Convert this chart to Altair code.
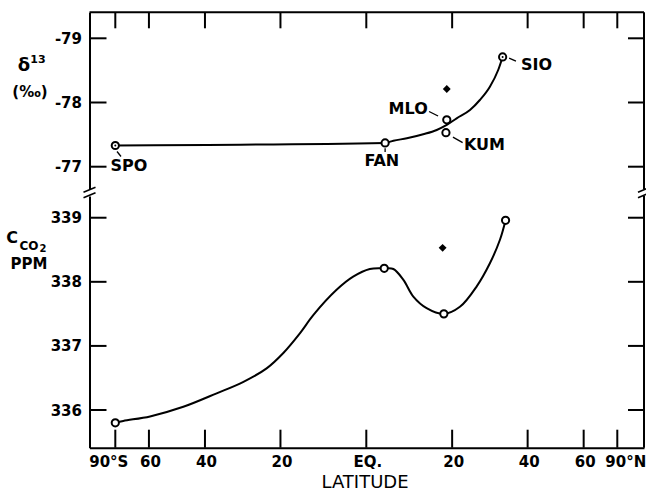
import altair as alt
import numpy as np
import pandas as pd

# ---------------- values ----------------
# upper panel: delta-13 (per mil), stations
TOP_STATIONS = ["SPO", "FAN", "MLO", "KUM", "SIO"]
TOP_LAT = [-90.0, 4.3, 18.7, 18.5, 32.9]
TOP_D13 = [-77.33, -77.37, -77.73, -77.53, -78.71]
TOP_DOTTED = ["SPO", "SIO"]
TOP_EXTRA_LAT = [18.7]
TOP_EXTRA_D13 = [-78.21]

# hand-drawn curve of the upper panel
TOP_CURVE_LAT = [-90.0, 4.3, 6.2, 9.3, 13.1, 16.3, 18.7, 21.1, 24.4, 26.9, 29.5, 31.7, 32.9]
TOP_CURVE_D13 = [-77.33, -77.37, -77.405, -77.442, -77.505, -77.572, -77.650,
                 -77.754, -77.883, -78.039, -78.246, -78.506, -78.71]

# lower panel: CO2 concentration (ppm)
BOT_LAT = [-90.0, 4.1, 18.0, 33.7]
BOT_CO2 = [335.80, 338.21, 337.50, 338.96]
BOT_EXTRA_LAT = [17.7]
BOT_EXTRA_CO2 = [338.53]

# hand-drawn curve of the lower panel
BOT_CURVE_LAT = [-90.0, -75.5, -59.5, -46.8, -36.6, -29.3, -23.4, -19.3, -15.3, -12.2,
                 -6.8, -3.0, 0.8, 4.1, 6.2, 8.5, 10.8, 13.9, 18.0, 21.9, 26.1,
                 29.5, 32.2, 33.7]
BOT_CURVE_CO2 = [335.80, 335.83, 335.90, 336.05, 336.26, 336.44, 336.65, 336.89, 337.20,
                 337.48, 337.875, 338.08, 338.20, 338.21, 338.20, 338.03, 337.77,
                 337.59, 337.50, 337.61, 337.93, 338.29, 338.66, 338.96]

# axes
LAT_TICKS = [-90, -60, -40, -20, 0, 20, 40, 60, 90]
LAT_TICK_LABELS = ["90°S", "60", "40", "20", "EQ.", "20", "40", "60", "90°N"]
D13_TICKS = [-79, -78, -77]
D13_TICK_LABELS = ["-79", "-78", "-77"]
CO2_TICKS = [336, 337, 338, 339]
CO2_TICK_LABELS = ["336", "337", "338", "339"]

# ---------------- layout / style ----------------
W, H = 554.5, 435.4
PAD = {"left": 89.5, "top": 12.3, "right": 2.0, "bottom": 44.3}
XDOM = [-1.1028, 1.1064]
TOP_DOM, TOP_RANGE = [-79.405, -76.648], [0, 177]
BOT_DOM, BOT_RANGE = [335.412, 339.339], [H, 183.7]
FONT = "DejaVu Sans"
SIN = "sin(datum.lat*PI/180)"

xs = alt.Scale(domain=XDOM, nice=False, zero=False)
ys_top = alt.Scale(domain=TOP_DOM, range=TOP_RANGE, nice=False, zero=False)
ys_bot = alt.Scale(domain=BOT_DOM, range=BOT_RANGE, nice=False, zero=False)


def label_expr(vals, labs):
    return "".join(f"abs(datum.value - ({v})) < 1e-6 ? '{l}' : " for v, l in zip(vals, labs)) + "''"


XT_SIN = [float(np.sin(np.radians(v))) for v in LAT_TICKS]
XAXIS = alt.Axis(values=XT_SIN, labelExpr=label_expr(XT_SIN, LAT_TICK_LABELS), orient="bottom",
                 ticks=False, grid=False, domain=True, domainWidth=2, domainColor="black",
                 labelPadding=7, labelFont=FONT, labelFontSize=15, labelFontWeight="bold",
                 labelColor="black", labelBaseline="top", title=None,
                 labelOffset={"condition": [{"test": "datum.value < -0.99", "value": -7},
                                            {"test": "datum.value > 0.99", "value": 8}],
                              "value": 1})


def yaxis(ticks, labels):
    return alt.Axis(values=ticks, labelExpr=label_expr(ticks, labels), orient="left",
                    ticks=False, grid=False, domain=True, domainWidth=2, domainColor="black",
                    labelPadding=8, labelFont=FONT, labelFontSize=15, labelFontWeight="bold",
                    labelColor="black", labelBaseline="middle", title=None)


TOP_AXIS = yaxis(D13_TICKS, D13_TICK_LABELS)
BOT_AXIS = yaxis(CO2_TICKS, CO2_TICK_LABELS)


def Xs():
    return alt.X("s:Q", scale=xs, axis=XAXIS)


def pts(lat, val, **extra):
    return alt.Chart(pd.DataFrame({"lat": lat, "v": val, **extra})).transform_calculate(s=SIN)


one = alt.Chart(pd.DataFrame({"k": [0]}))


def panel(ticks, yscale, yax, curve_lat, curve_val, interp, p_lat, p_val, ex_lat, ex_val):
    Y = alt.Y("v:Q", scale=yscale, axis=yax)
    tdf = alt.Chart(pd.DataFrame({"v": ticks}))
    left = tdf.mark_rule(color="black", strokeWidth=2).encode(
        y=Y, x=alt.value(0), x2=alt.value(17))
    right = tdf.mark_rule(color="black", strokeWidth=2).encode(
        y=Y, x=alt.value(W - 16), x2=alt.value(W))
    curve = pts(curve_lat, curve_val).mark_line(
        color="black", strokeWidth=2, interpolate=interp).encode(
        x=Xs(), y=Y, order="lat:Q")
    circles = pts(p_lat, p_val).mark_point(
        shape="circle", size=52, filled=True, fill="white", stroke="black",
        strokeWidth=2, opacity=1).encode(x=Xs(), y=Y)
    diamond = pts(ex_lat, ex_val).mark_point(
        shape="diamond", size=62, filled=True, color="black", opacity=1).encode(
        x=Xs(), y=Y)
    return [left, right, curve, circles, diamond]


# ---------- upper panel ----------
top_layers = panel(D13_TICKS, ys_top, TOP_AXIS, TOP_CURVE_LAT, TOP_CURVE_D13, "monotone",
                   TOP_LAT, TOP_D13, TOP_EXTRA_LAT, TOP_EXTRA_D13)
YT = alt.Y("v:Q", scale=ys_top, axis=TOP_AXIS)

top_df = pts(TOP_LAT, TOP_D13, st=TOP_STATIONS)
dots = top_df.transform_filter(
    alt.FieldOneOfPredicate(field="st", oneOf=TOP_DOTTED)).mark_point(
    shape="circle", size=4, filled=True, color="black", opacity=1).encode(x=Xs(), y=YT)
top_layers.append(dots)

LABEL_STYLE = {
    "SPO": dict(align="center", dx=13.5, dy=20.5, lead=(1.7, 6.0, 5.7, 11.0)),
    "FAN": dict(align="center", dx=-3.3, dy=18.0, lead=(0.0, 5.2, 0.0, 9.0)),
    "MLO": dict(align="right", dx=-19.0, dy=-10.7, lead=(-17.7, -8.3, -8.7, -3.8)),
    "KUM": dict(align="left", dx=18.0, dy=12.3, lead=(7.0, 4.5, 16.7, 10.0)),
    "SIO": dict(align="left", dx=18.3, dy=8.0, lead=(6.5, 1.3, 13.3, 4.3)),
}
for st, sty in LABEL_STYLE.items():
    sub = top_df.transform_filter(alt.datum.st == st)
    top_layers.append(sub.mark_text(
        align=sty["align"], baseline="middle", dx=sty["dx"], dy=sty["dy"], font=FONT,
        fontSize=16, fontWeight="bold", color="black").encode(
        x=Xs(), y=YT, text="st:N"))
    a, b, c, d = sty["lead"]
    top_layers.append(sub.mark_rule(
        color="black", strokeWidth=1.3, xOffset=a, yOffset=b, x2Offset=c, y2Offset=d).encode(
        x=Xs(), y=YT, x2="s:Q", y2="v:Q"))

# ---------- lower panel ----------
bot_layers = panel(CO2_TICKS, ys_bot, BOT_AXIS, BOT_CURVE_LAT, BOT_CURVE_CO2, "catmull-rom",
                   BOT_LAT, BOT_CO2, BOT_EXTRA_LAT, BOT_EXTRA_CO2)

xt = alt.Chart(pd.DataFrame({"lat": LAT_TICKS})).transform_calculate(s=SIN)
bot_layers.append(xt.mark_rule(color="black", strokeWidth=2).encode(
    x=Xs(), y=alt.value(H - 18), y2=alt.value(H)))
bot_layers.append(xt.mark_rule(color="black", strokeWidth=2).encode(
    x=Xs(), y=alt.value(0), y2=alt.value(16)))

# frame lines and axis breaks
bot_layers.append(one.mark_rule(color="black", strokeWidth=2).encode(
    x=alt.value(0), x2=alt.value(W), y=alt.value(0)))
for y1, y2 in [(0, 177), (183.7, H)]:
    bot_layers.append(one.mark_rule(color="black", strokeWidth=2).encode(
        x=alt.value(W), y=alt.value(y1), y2=alt.value(y2)))
for xc in [0, W]:
    for yb in [0, 5.5]:
        bot_layers.append(one.mark_rule(color="black", strokeWidth=1.6).encode(
            x=alt.value(xc - 6), x2=alt.value(xc + 6),
            y=alt.value(180 + yb), y2=alt.value(175 + yb)))

# axis titles
def txt(t, x, y, size, weight="bold"):
    return one.mark_text(text=t, font=FONT, fontSize=size, fontWeight=weight, color="black",
                         align="center", baseline="middle").encode(
        x=alt.value(x), y=alt.value(y))

bot_layers += [
    txt("δ", -65.5, 54.0, 18),
    txt("13", -51.5, 48.0, 11),
    txt("(‰)", -59.5, 79.7, 15),
    txt("C", -77.5, 225.2, 16),
    txt("CO", -60.5, 233.7, 12),
    txt("2", -46.5, 236.2, 10),
    txt("PPM", -60.5, 251.2, 15),
    txt("LATITUDE", 275.5, 471.0, 18, weight="normal"),
]

chart = alt.layer(alt.layer(*top_layers), alt.layer(*bot_layers)).resolve_scale(
    y="independent").properties(
    width=W, height=H, padding=PAD, autosize=alt.AutoSizeParams(type="none"),
    background="white").configure_view(strokeWidth=0)

chart.save("out.html", embed_options={"renderer": "svg", "actions": False})
